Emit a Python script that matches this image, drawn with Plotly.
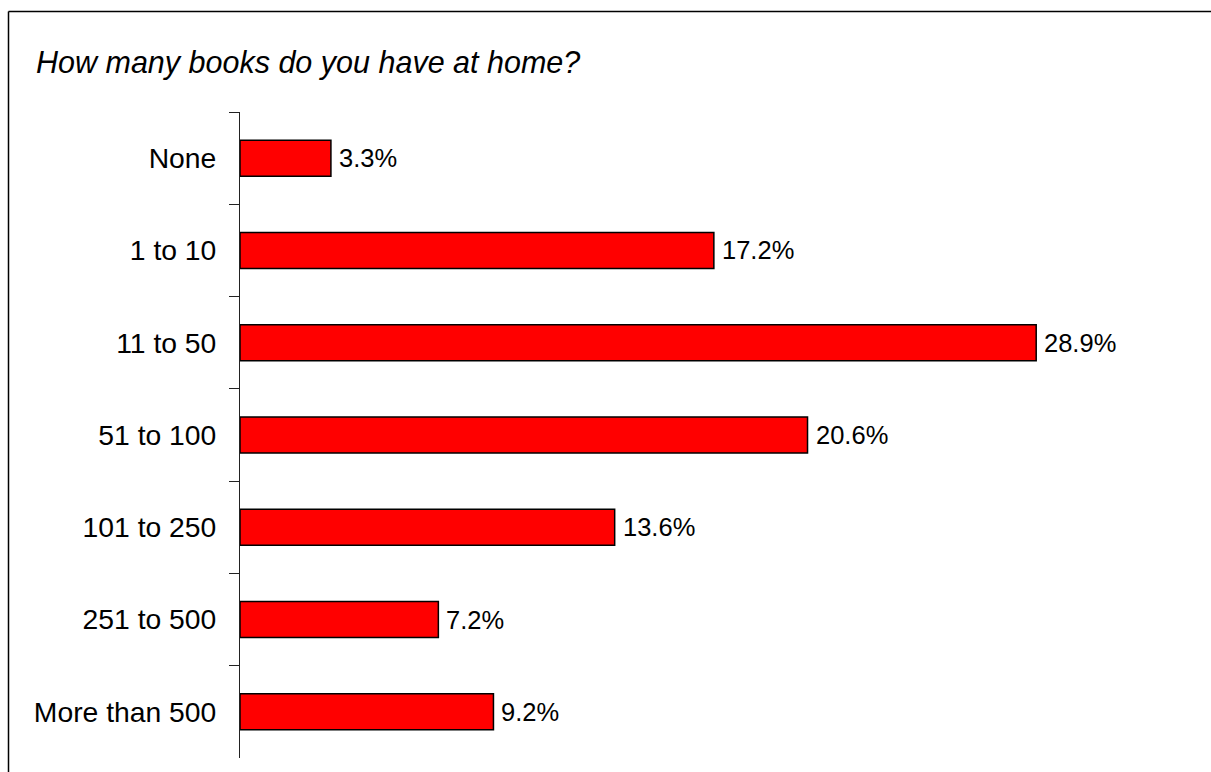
import plotly.graph_objects as go

# Survey responses: number of books at home (share of respondents, %)
categories = ["None", "1 to 10", "11 to 50", "51 to 100", "101 to 250", "251 to 500", "More than 500"]
shares = [3.3, 17.2, 28.9, 20.6, 13.6, 7.2, 9.2]
title_text = "How many books do you have at home?"

W, H = 1211, 772
M_LEFT, M_RIGHT, M_TOP, M_BOTTOM = 240, 7, 112, 14
plot_w = W - M_LEFT - M_RIGHT
plot_h = H - M_TOP - M_BOTTOM

FONT = "Liberation Sans, Arial, Helvetica, sans-serif"

fig = go.Figure(
    go.Bar(
        y=categories,
        x=shares,
        orientation="h",
        marker=dict(color="#FF0000", line=dict(color="#000000", width=1.5)),
        cliponaxis=False,
        hoverinfo="skip",
    )
)

# value labels just past the end of each bar
for cat, v in zip(categories, shares):
    fig.add_annotation(
        x=v, y=cat, xref="x", yref="y",
        text=f"{v:.1f}%", showarrow=False,
        xanchor="left", yanchor="middle", xshift=6,
        font=dict(family=FONT, size=25.5, color="#000000"),
    )

# outer frame (left and top edges) in paper coordinates
fx = (8.5 - M_LEFT) / plot_w
fy = (H - M_BOTTOM - 11.5) / plot_h
fig.add_shape(type="line", xref="paper", yref="paper", x0=fx, x1=fx, y0=fy, y1=-1,
              line=dict(color="#000000", width=1.5))
fig.add_shape(type="line", xref="paper", yref="paper", x0=fx, x1=2, y0=fy, y1=fy,
              line=dict(color="#000000", width=1.5))

fig.update_layout(
    width=W,
    height=H,
    margin=dict(l=M_LEFT, r=M_RIGHT, t=M_TOP, b=M_BOTTOM, autoexpand=False),
    paper_bgcolor="#FFFFFF",
    plot_bgcolor="#FFFFFF",
    bargap=0.61,
    showlegend=False,
    title=dict(
        text=title_text,
        font=dict(family=FONT, size=30.5, color="#000000", style="italic"),
        xref="container", yref="container",
        x=36 / W, xanchor="left",
        y=1 - 62 / H, yanchor="middle",
    ),
    xaxis=dict(
        range=[0, plot_w / 27.55],
        showgrid=False, zeroline=False, showline=False,
        showticklabels=False, ticks="",
    ),
    yaxis=dict(
        type="category",
        categoryorder="array",
        categoryarray=categories,
        autorange="reversed",
        showgrid=False, zeroline=False,
        showline=True, linecolor="#222222", linewidth=1,
        ticks="outside", ticklen=10, tickcolor="#222222", tickwidth=1,
        tickson="boundaries",
        ticklabelstandoff=17,
        tickfont=dict(family=FONT, size=28.3, color="#000000"),
    ),
)

fig.write_html("out.html")
